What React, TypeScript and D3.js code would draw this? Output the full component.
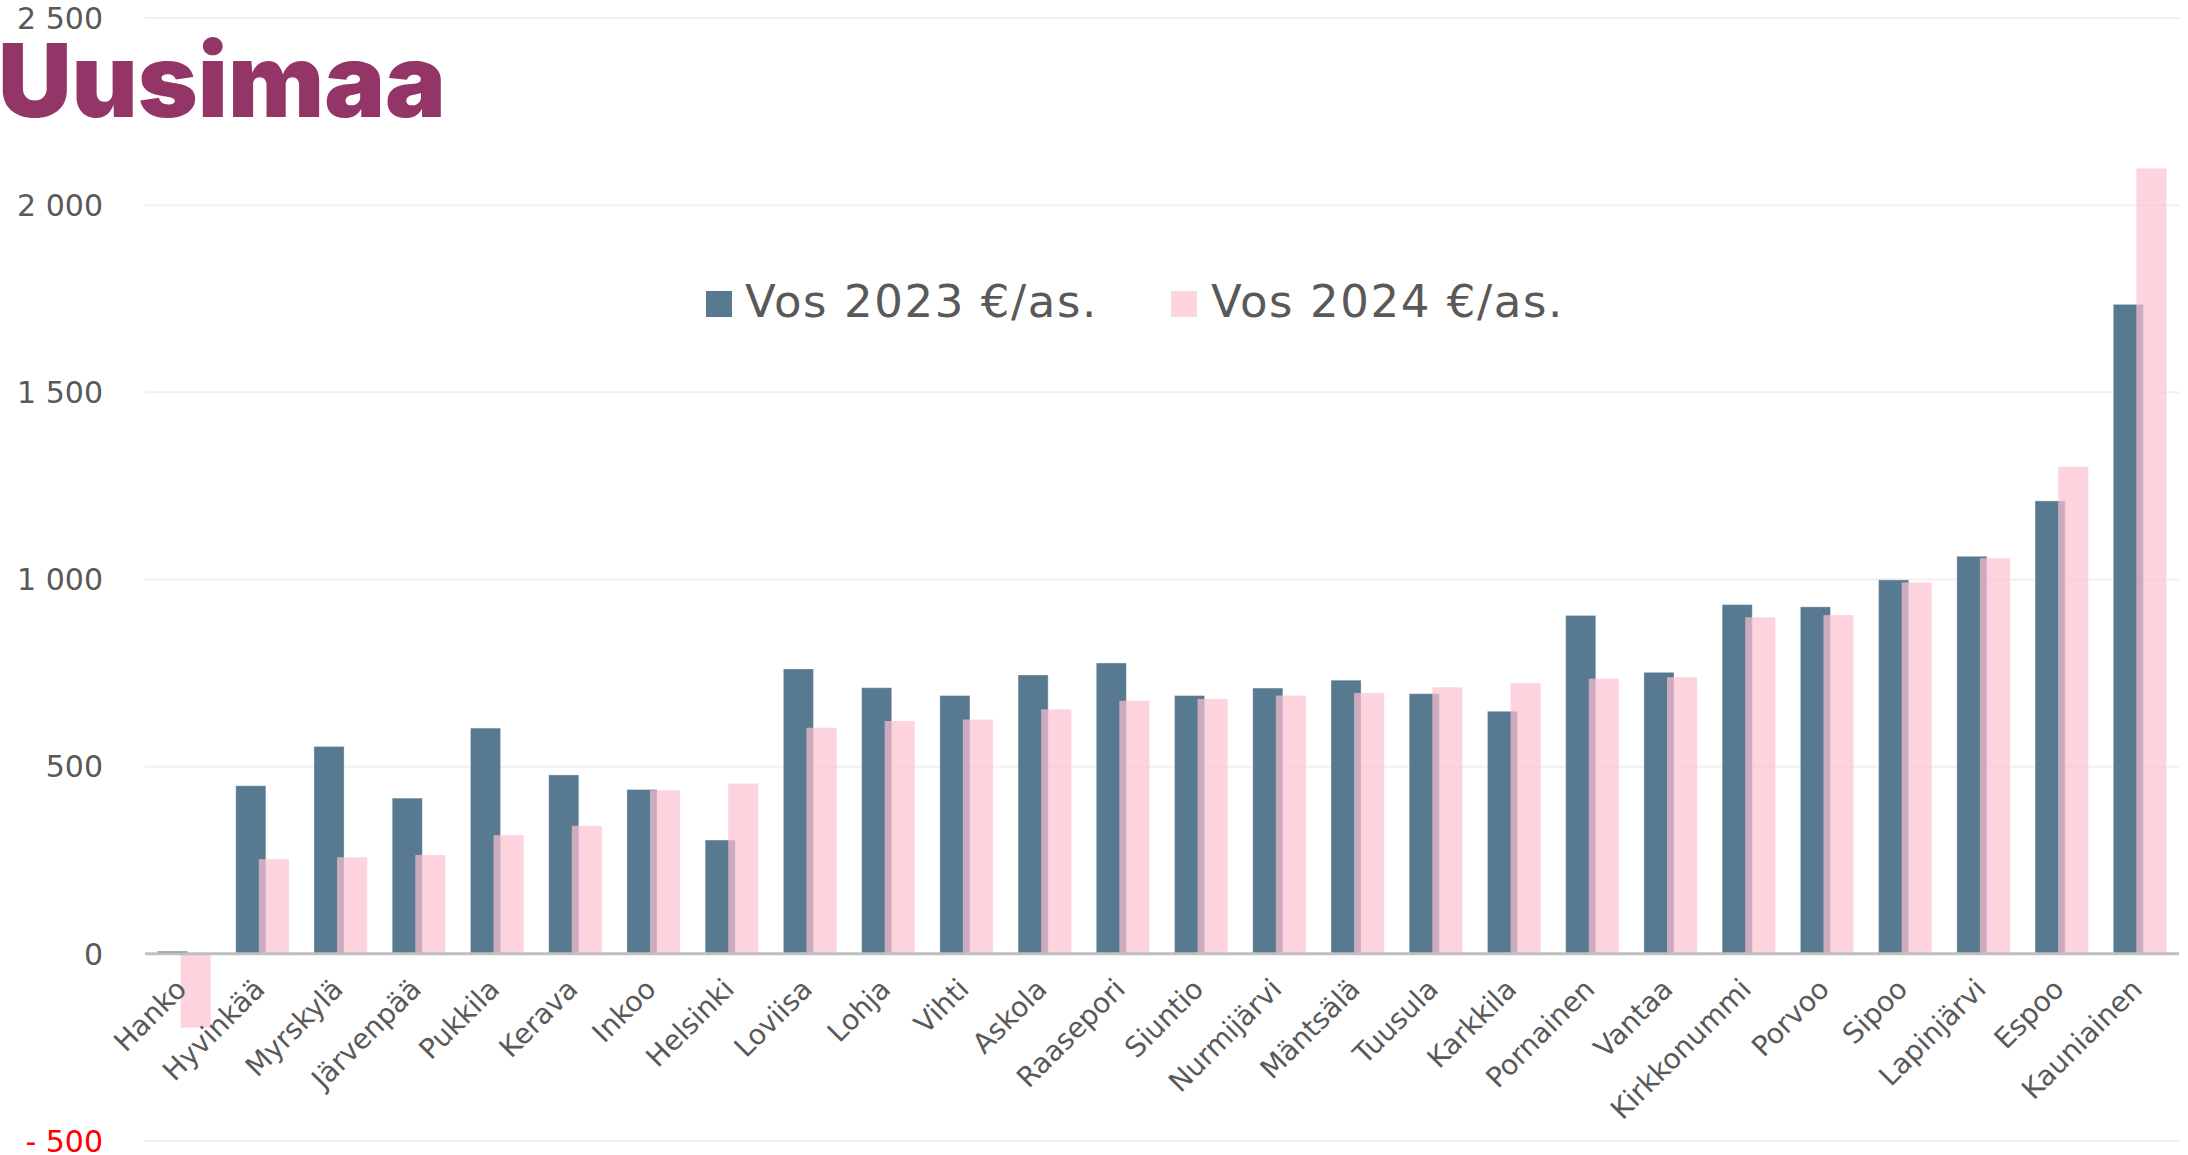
import * as d3 from 'd3';

const categories = [
    'Hanko', 'Hyvinkää', 'Myrskylä', 'Järvenpää', 'Pukkila', 'Kerava', 'Inkoo', 'Helsinki',
    'Loviisa', 'Lohja', 'Vihti', 'Askola', 'Raasepori', 'Siuntio', 'Nurmijärvi', 'Mäntsälä',
    'Tuusula', 'Karkkila', 'Pornainen', 'Vantaa', 'Kirkkonummi', 'Porvoo', 'Sipoo',
    'Lapinjärvi', 'Espoo', 'Kauniainen',
];
const vos2023 = [
    7, 449, 554, 416, 603, 478, 439, 304, 761, 711, 690, 745, 777, 690, 710, 731,
    695, 648, 904, 752, 933, 927, 999, 1062, 1210, 1735,
];
const vos2024 = [
    -197, 253, 258, 264, 317, 342, 437, 455, 604, 622, 626, 653, 676, 681, 690, 697,
    712, 723, 735, 739, 899, 905, 992, 1057, 1301, 2098,
];
const yTicks = [2500, 2000, 1500, 1000, 500, 0, -500];
const yTickLabels = ['2 500', '2 000', '1 500', '1 000', '500', '0', '- 500'];
const seriesNames = ['Vos 2023 €/as.', 'Vos 2024 €/as.'];

const W = 2188;
const H = 1155;
const BLUE = '#587a90';
const PINK = '#fcc0d0';
const TEXT = '#595959';
const FONT = '"DejaVu Sans", Verdana, sans-serif';

function App() {
    const x = d3.scaleBand().domain(categories).range([145, 2179]).padding(0);
    const y = d3.scaleLinear().domain([-500, 2500]).range([1141, 18]);
    const bw = x.bandwidth();
    const barW = bw * 0.385;
    const shift = bw * 0.295;
    const y0 = y(0);

    return (
        <svg width={W} height={H} style={{ position: 'absolute', left: 0, top: 0, background: '#fff' }}>
            {/* gridlines */}
            {yTicks.filter((t) => t !== 0).map((t) => (
                <line key={t} x1={145} x2={2179} y1={y(t)} y2={y(t)} stroke="#f0f0f0" strokeWidth={2} />
            ))}
            {yTicks.map((t, i) => (
                <text
                    key={t}
                    x={103}
                    y={y(t)}
                    dy="0.36em"
                    textAnchor="end"
                    fontFamily={FONT}
                    fontSize={30}
                    fill={t < 0 ? '#ff0000' : TEXT}
                >
                    {yTickLabels[i]}
                </text>
            ))}

            {/* bars */}
            {categories.map((c, i) => {
                const cx = (x(c) as number) + bw / 2;
                const left = cx - (barW + shift) / 2;
                return (
                    <rect key={'a' + c} x={left} width={barW}
                        y={Math.min(y(vos2023[i]), y0)} height={Math.abs(y(vos2023[i]) - y0)}
                        fill={BLUE} stroke="#ffffff" strokeOpacity={0.35} strokeWidth={1} />
                );
            })}
            {categories.map((c, i) => {
                const cx = (x(c) as number) + bw / 2;
                const left = cx - (barW + shift) / 2 + shift;
                return (
                    <rect key={'b' + c} x={left} width={barW}
                        y={Math.min(y(vos2024[i]), y0)} height={Math.abs(y(vos2024[i]) - y0)}
                        fill={PINK} fillOpacity={0.7} />
                );
            })}

            {/* zero axis */}
            <line x1={145} x2={2179} y1={y0} y2={y0} stroke="#bfbfbf" strokeWidth={3} />

            {/* category labels */}
            {categories.map((c) => {
                const px = (x(c) as number) + bw / 2 + 4;
                const py = y0 + 37;
                return (
                    <text key={'l' + c} x={px} y={py} textAnchor="end"
                        transform={`rotate(-45 ${px} ${py})`}
                        fontFamily={FONT} fontSize={28} fill={TEXT}>
                        {c}
                    </text>
                );
            })}

            {/* legend */}
            <rect x={706} y={291} width={26} height={26} fill={BLUE} />
            <text x={745} y={317} fontFamily={FONT} fontSize={45} fill={TEXT} letterSpacing={1.6}>{seriesNames[0]}</text>
            <rect x={1171} y={291} width={26} height={26} fill={PINK} fillOpacity={0.7} />
            <text x={1211} y={317} fontFamily={FONT} fontSize={45} fill={TEXT} letterSpacing={1.6}>{seriesNames[1]}</text>

            {/* title */}
            <text x={-2} y={117} fontFamily="Inter, Roboto, sans-serif" fontWeight={900}
                fontSize={102} fill="#933566">
                Uusimaa
            </text>
        </svg>
    );
}

export default App;
